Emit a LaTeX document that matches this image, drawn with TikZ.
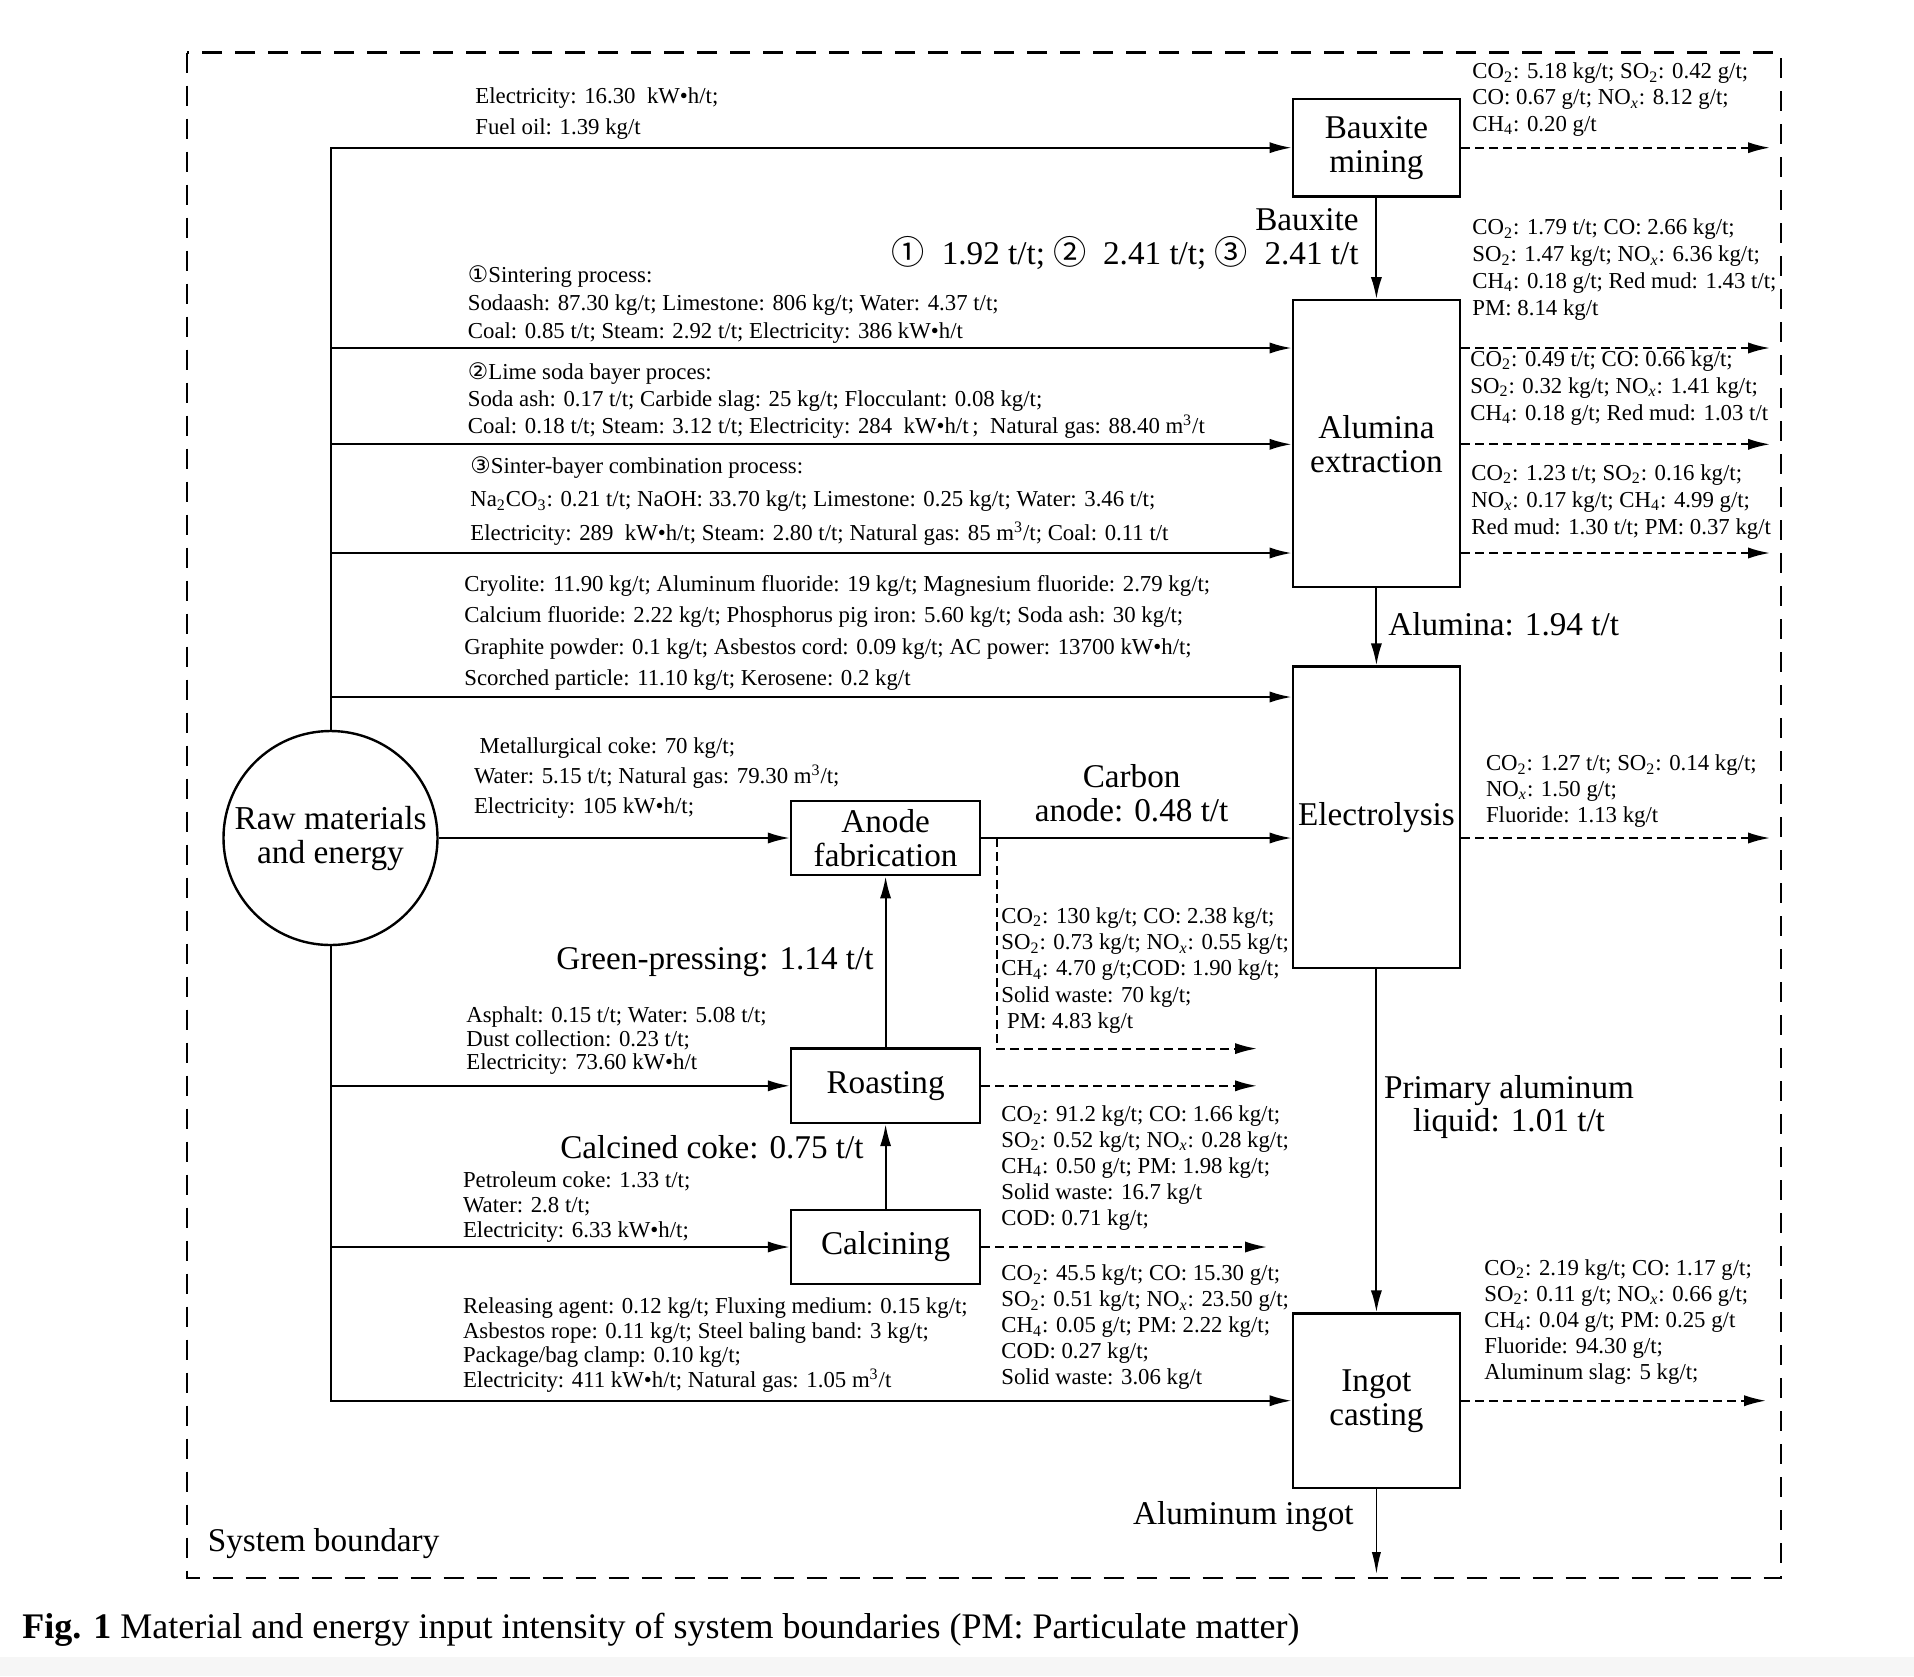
\documentclass[tikz,border=0pt]{standalone}
\usepackage{fontspec}
\setmainfont{Liberation Serif}
\newfontfamily\circfont{DejaVu Sans}
\newfontfamily\cjkcirc{Noto Sans CJK SC}
\usetikzlibrary{arrows.meta}
\newcommand\COtwo{CO\textsubscript{2}}
\newcommand\SOtwo{SO\textsubscript{2}}
\newcommand\NOx{NO\textsubscript{\textit{x}}}
\newcommand\CHfour{CH\textsubscript{4}}
\newcommand\mthree{m\textsuperscript{3}}
\newcommand\cone{{\circfont ①}}
\newcommand\ctwo{{\circfont ②}}
\newcommand\cthree{{\circfont ③}}
\newcommand\bcone{{\cjkcirc ①}}
\newcommand\bctwo{{\cjkcirc ②}}
\newcommand\bcthree{{\cjkcirc ③}}
\definecolor{bandgray}{RGB}{246,246,246}
\begin{document}
\begin{tikzpicture}[x=0.5pt,y=-0.5pt,
  box/.style={draw, line width=1.2pt, inner sep=0pt, align=center, font=\fontsize{16.6}{17}\selectfont, minimum width=83.65pt},
  arr/.style={line width=1pt, -{Latex[length=11pt,width=5.6pt]}},
  dsh/.style={line width=1pt, dash pattern=on 4.5pt off 2.5pt, -{Latex[length=11pt,width=5.6pt]}},
  sm/.style={inner sep=0pt, align=left, anchor=west, font=\fontsize{11.4}{#1}\selectfont},
  sm/.default=13.1,
  big/.style={inner sep=0pt, font=\fontsize{16.6}{#1}\selectfont},
  big/.default=17]
\useasboundingbox (0,0) rectangle (1914,1676);
\fill[white] (0,0) rectangle (1914,1676);
\fill[bandgray] (0,1657) rectangle (1914,1676);
% system boundary
\draw[line width=1.4pt, dash pattern=on 10pt off 6.5pt] (187,52.5) rectangle (1781,1578);

% process boxes
\node[box, minimum height=48.8pt] (bm) at (1376.4,147.7) {Bauxite\\mining};
\node[box, minimum height=143.45pt] (ae) at (1376.4,443.7) {Alumina\\extraction};
\node[box, minimum height=150.75pt] (el) at (1376.4,817.3) {Electrolysis};
\node[box, minimum height=87.25pt] (ic) at (1376.4,1400.7) {Ingot\\casting};
\node[box, minimum width=94.6pt, minimum height=37.2pt] (af) at (885.6,838) {Anode\\fabrication};
\node[box, minimum width=94.6pt, minimum height=37.2pt] (ro) at (885.6,1085.8) {Roasting};
\node[box, minimum width=94.6pt, minimum height=37.2pt] (ca) at (885.6,1247) {Calcining};
\node[draw, circle, line width=1.2pt, minimum size=107pt, inner sep=0pt, align=center, font=\fontsize{16.7}{17}\selectfont] (raw) at (330.5,838) {Raw materials\\and energy};

% helper coordinates
\coordinate (xr) at (1770,0);
\coordinate (xr2) at (1766,0);
\coordinate (t2) at (330.5,348);
\coordinate (t3) at (330.5,444.3);
\coordinate (t4) at (330.5,553);
\coordinate (t5) at (330.5,697);
\coordinate (out) at (1376.4,1574);
\coordinate (ad) at (997,838);
\coordinate (adc) at (997,1048.6);
\coordinate (ade) at (1257,1048.6);
\coordinate (cae) at (1267,1247);

% inputs
\draw[arr] (raw.north) |- (bm.west);
\draw[arr] (t2) -- (t2 -| ae.west);
\draw[arr] (t3) -- (t3 -| ae.west);
\draw[arr] (t4) -- (t4 -| ae.west);
\draw[arr] (t5) -- (t5 -| el.west);
\draw[arr] (raw.east) -- (af.west);
\draw[arr] (raw.south |- ro.west) -- (ro.west);
\draw[arr] (raw.south |- ca.west) -- (ca.west);
\draw[arr] (raw.south) |- (ic.west);

% main flows
\draw[arr] (bm) -- (ae);
\draw[arr] (ae) -- (el);
\draw[arr] (el) -- (ic);
\draw[line width=0.7pt, -{Latex[length=11pt,width=4.6pt]}] (ic.south) -- (out);
\draw[arr] (ca) -- (ro);
\draw[arr] (ro) -- (af);
\draw[arr] (af.east) -- (af.east -| el.west);

% outputs
\draw[dsh] (bm.east) -- (bm.east -| xr);
\draw[dsh] (ae.east |- t2) -- (xr |- t2);
\draw[dsh] (ae.east |- t3) -- (xr |- t3);
\draw[dsh] (ae.east |- t4) -- (xr |- t4);
\draw[dsh] (el.east |- af.east) -- (xr |- af.east);
\draw[dsh] (ic.east) -- (ic.east -| xr2);
\draw[dsh] (ad) -- (adc) -- (ade);
\draw[dsh] (ro.east) -- (ro.east -| ade);
\draw[dsh] (ca.east) -- (cae);

% input texts
\node[sm=15.85] (iBM) at (475,113.5) {Electricity: 16.30\ \ kW•h/t;\\Fuel oil: 1.39 kg/t};
\node[sm=14] (iS1) at (467.5,305) {\cone Sintering process:\\Sodaash: 87.30 kg/t; Limestone: 806 kg/t; Water: 4.37 t/t;\\Coal: 0.85 t/t; Steam: 2.92 t/t; Electricity: 386 kW•h/t};
\node[sm=13.45] (iS2) at (467.5,400.4) {\ctwo Lime soda bayer proces:\\Soda ash: 0.17 t/t; Carbide slag: 25 kg/t; Flocculant: 0.08 kg/t;\\Coal: 0.18 t/t; Steam: 3.12 t/t; Electricity: 284\ \ kW•h/t\,;\ \ Natural gas: 88.40 \mthree/t};
\node[sm=16.8] (iS3) at (470,501) {\cthree Sinter-bayer combination process:\\Na\textsubscript{2}CO\textsubscript{3}: 0.21 t/t; NaOH: 33.70 kg/t; Limestone: 0.25 kg/t; Water: 3.46 t/t;\\Electricity: 289\ \ kW•h/t; Steam: 2.80 t/t; Natural gas: 85 \mthree/t; Coal: 0.11 t/t};
\node[sm=15.7] (iEL) at (464,633) {Cryolite: 11.90 kg/t; Aluminum fluoride: 19 kg/t; Magnesium fluoride: 2.79 kg/t;\\Calcium fluoride: 2.22 kg/t; Phosphorus pig iron: 5.60 kg/t; Soda ash: 30 kg/t;\\Graphite powder: 0.1 kg/t; Asbestos cord: 0.09 kg/t; AC power: 13700 kW•h/t;\\Scorched particle: 11.10 kg/t; Kerosene: 0.2 kg/t};
\node[sm=15] (iAF) at (473.6,778) {\ Metallurgical coke: 70 kg/t;\\Water: 5.15 t/t; Natural gas: 79.30 \mthree/t;\\Electricity: 105 kW•h/t;};
\node[sm=11.9] (iRO) at (466,1040.7) {Asphalt: 0.15 t/t; Water: 5.08 t/t;\\Dust collection: 0.23 t/t;\\Electricity: 73.60 kW•h/t};
\node[sm=12.5] (iCA) at (462.6,1206.7) {Petroleum coke: 1.33 t/t;\\Water: 2.8 t/t;\\Electricity: 6.33 kW•h/t;};
\node[sm=12.2] (iIC) at (462.6,1345) {Releasing agent: 0.12 kg/t; Fluxing medium: 0.15 kg/t;\\Asbestos rope: 0.11 kg/t; Steel baling band: 3 kg/t;\\Package/bag clamp: 0.10 kg/t;\\Electricity: 411 kW•h/t; Natural gas: 1.05 \mthree/t};

% emission texts
\node[sm=13.1] (eBM) at (1472,99.5) {\COtwo: 5.18 kg/t; \SOtwo: 0.42 g/t;\\CO: 0.67 g/t; \NOx: 8.12 g/t;\\\CHfour: 0.20 g/t};
\node[sm=13.45] (eA1) at (1472,269.8) {\COtwo: 1.79 t/t; CO: 2.66 kg/t;\\\SOtwo: 1.47 kg/t; \NOx: 6.36 kg/t;\\\CHfour: 0.18 g/t; Red mud: 1.43 t/t;\\PM: 8.14 kg/t};
\node[sm=13.45] (eA2) at (1470,388) {\COtwo: 0.49 t/t; CO: 0.66 kg/t;\\\SOtwo: 0.32 kg/t; \NOx: 1.41 kg/t;\\\CHfour: 0.18 g/t; Red mud: 1.03 t/t};
\node[sm=13.45] (eA3) at (1471,501.7) {\COtwo: 1.23 t/t; \SOtwo: 0.16 kg/t;\\\NOx: 0.17 kg/t; \CHfour: 4.99 g/t;\\Red mud: 1.30 t/t; PM: 0.37 kg/t};
\node[sm=12.8] (eEL) at (1485.6,791) {\COtwo: 1.27 t/t; \SOtwo: 0.14 kg/t;\\\NOx: 1.50 g/t;\\Fluoride: 1.13 kg/t};
\node[sm=13.1] (eIC) at (1484,1322) {\COtwo: 2.19 kg/t; CO: 1.17 g/t;\\\SOtwo: 0.11 g/t; \NOx: 0.66 g/t;\\\CHfour: 0.04 g/t; PM: 0.25 g/t\\Fluoride: 94.30 g/t;\\Aluminum slag: 5 kg/t;};
\node[sm=13.1] (eAF) at (1001,970.5) {\COtwo: 130 kg/t; CO: 2.38 kg/t;\\\SOtwo: 0.73 kg/t; \NOx: 0.55 kg/t;\\\CHfour: 4.70 g/t;COD: 1.90 kg/t;\\Solid waste: 70 kg/t;\\\ PM: 4.83 kg/t};
\node[sm=13.1] (eRO) at (1001,1168) {\COtwo: 91.2 kg/t; CO: 1.66 kg/t;\\\SOtwo: 0.52 kg/t; \NOx: 0.28 kg/t;\\\CHfour: 0.50 g/t; PM: 1.98 kg/t;\\Solid waste: 16.7 kg/t\\COD: 0.71 kg/t;};
\node[sm=13] (eCA) at (1001,1327.5) {\COtwo: 45.5 kg/t; CO: 15.30 g/t;\\\SOtwo: 0.51 kg/t; \NOx: 23.50 g/t;\\\CHfour: 0.05 g/t; PM: 2.22 kg/t;\\COD: 0.27 kg/t;\\Solid waste: 3.06 kg/t};

% flow labels
\node[big=17, align=right, anchor=east] (lbx) at (1359,239) {Bauxite\\\bcone\ \ 1.92 t/t; \bctwo\ \ 2.41 t/t; \bcthree\ \ 2.41 t/t};
\node[big, anchor=west] (lal) at (1388,624) {Alumina: 1.94 t/t};
\node[big=17.25, align=center] (lca) at (1131.6,793) {Carbon\\anode: 0.48 t/t};
\node[big, anchor=east] (lgp) at (874,962) {Green-pressing: 1.14 t/t};
\node[big, anchor=east] (lcc) at (864,1147.5) {Calcined coke: 0.75 t/t};
\node[big=16.5, align=center] (lpa) at (1509,1106.5) {Primary aluminum\\liquid: 1.01 t/t};
\node[big, anchor=east] (lai) at (1354,1517) {Aluminum ingot};
\node[big, anchor=west] (lsb) at (207.5,1544) {System boundary};
\node[anchor=west, inner sep=0pt, font=\fontsize{18}{21}\selectfont] (cap) at (22,1629.6) {\textbf{Fig. 1} Material and energy input intensity of system boundaries (PM: Particulate matter)};
\end{tikzpicture}
\end{document}
